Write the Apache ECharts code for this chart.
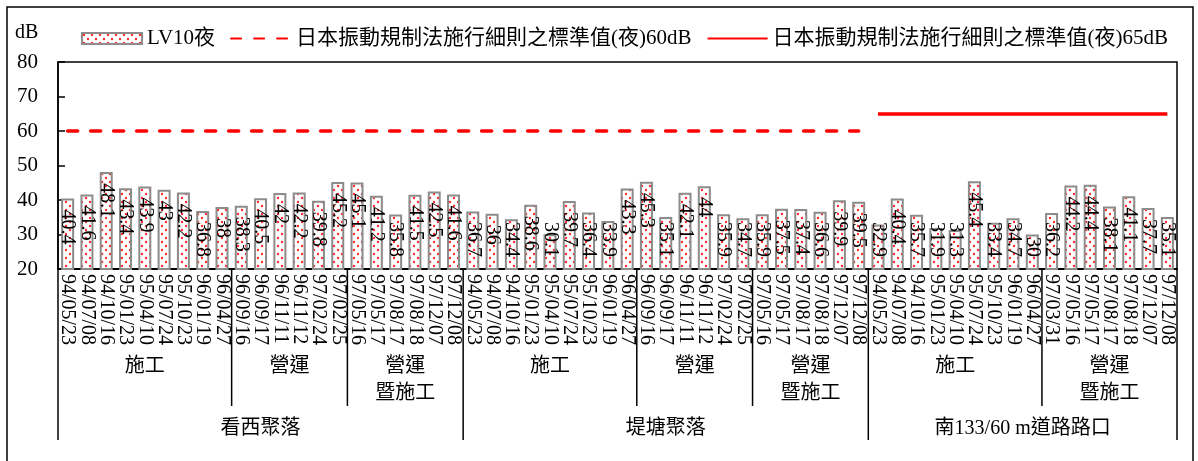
<!DOCTYPE html>
<html><head><meta charset="utf-8">
<script src="https://cdn.jsdelivr.net/npm/echarts@6/dist/echarts.min.js"></script>
<style>html,body{margin:0;padding:0;background:#fff}#c{width:1198px;height:461px}</style>
</head><body><div id="c"></div>
<script>
// ---- data ----
const kanxiDates = ['94/05/23','94/07/08','94/10/16','95/01/23','95/04/10','95/07/24','95/10/23','96/01/19','96/04/27','96/09/16','96/09/17','96/11/11','96/11/12','97/02/24','97/02/25','97/05/16','97/05/17','97/08/17','97/08/18','97/12/07','97/12/08'];
const kanxiValues = [40.4,41.6,48.1,43.4,43.9,43,42.2,36.8,38,38.3,40.5,42,42.2,39.8,45.2,45.1,41.2,35.8,41.5,42.5,41.6];
const ditangDates = ['94/05/23','94/07/08','94/10/16','95/01/23','95/04/10','95/07/24','95/10/23','96/01/19','96/04/27','96/09/16','96/09/17','96/11/11','96/11/12','97/02/24','97/02/25','97/05/16','97/05/17','97/08/17','97/08/18','97/12/07','97/12/08'];
const ditangValues = [36.7,36,34.4,38.6,30.1,39.7,36.4,33.9,43.3,45.3,35.1,42.1,44,35.9,34.7,35.9,37.5,37.4,36.6,39.9,39.5];
const nanDates = ['94/05/23','94/07/08','94/10/16','95/01/23','95/04/10','95/07/24','95/10/23','96/01/19','96/04/27','97/03/31','97/05/16','97/05/17','97/08/17','97/08/18','97/12/07','97/12/08'];
const nanValues = [32.9,40.4,35.7,31.9,31.3,45.4,33.4,34.7,30,36.2,44.2,44.4,38.1,41.1,37.7,35.1];
const groupNames = ['看西聚落','堤塘聚落','南133/60 m道路路口'];
const groupSizes = [21,21,16];
const phaseNames = ['施工','營運','營運\n暨施工','施工','營運','營運\n暨施工','施工','營運\n暨施工'];
const phaseSizes = [9,6,6,9,6,6,9,7];
const limit60 = 60;
const limit65 = 65;
const yMin = 20, yMax = 80, yStep = 10;
const seriesNames = ['LV10夜','日本振動規制法施行細則之標準值(夜)60dB','日本振動規制法施行細則之標準值(夜)65dB'];

const dates = kanxiDates.concat(ditangDates, nanDates);
const values = kanxiValues.concat(ditangValues, nanValues);

const FONT = "'Liberation Serif','Noto Sans CJK TC',serif";

// dotted pattern
const pc = document.createElement('canvas');
pc.width = 8; pc.height = 8;
const pctx = pc.getContext('2d');
pctx.fillStyle = '#ffffff'; pctx.fillRect(0,0,8,8);
pctx.fillStyle = '#ff2a2a';
[[2,2],[6,6]].forEach(p=>{pctx.beginPath();pctx.arc(p[0],p[1],1.2,0,Math.PI*2);pctx.fill();});
const pattern = {image: pc, repeat: 'repeat'};

const chart = echarts.init(document.getElementById('c'), null, {renderer:'canvas'});

const lineLegendStyle = {itemStyle: {opacity: 0}};
const baseOption = {
  animation: false,
  backgroundColor: '#fff',
  textStyle: {fontFamily: FONT},
  grid: {left: 58, right: 21, top: 62, bottom: 192, show: true, borderColor: '#000', borderWidth: 1.5, backgroundColor: 'transparent'},
  legend: {
    left: 76, top: 23, itemWidth: 60, itemHeight: 11, itemGap: 15,
    textStyle: {fontSize: 21, fontFamily: FONT, color: '#000'},
    data: [
      {name: seriesNames[0], icon: 'rect'},
      Object.assign({name: seriesNames[1]}, lineLegendStyle),
      Object.assign({name: seriesNames[2]}, lineLegendStyle)
    ]
  },
  xAxis: {
    type: 'category', data: dates,
    axisLine: {lineStyle: {color: '#000', width: 2}},
    axisTick: {show: false},
    axisLabel: {interval: 0, rotate: -90, fontSize: 20, fontFamily: FONT, color: '#000', margin: 5},
    splitLine: {show: false}
  },
  yAxis: {
    type: 'value', min: yMin, max: yMax, interval: yStep,
    axisLine: {show: true, lineStyle: {color: '#000', width: 1.5}},
    axisTick: {show: true, inside: true, length: 7, lineStyle: {color: '#000', width: 1.5}},
    axisLabel: {fontSize: 21, fontFamily: FONT, color: '#000', margin: 20},
    splitLine: {show: false}
  },
  series: [
    {
      name: seriesNames[0], type: 'bar', data: values, barWidth: 13,
      itemStyle: {color: pattern, borderColor: '#8c8c8c', borderWidth: 2},
      label: {show: true, rotate: -90, fontSize: 20, fontFamily: FONT, color: '#000', position: 'insideTop', align: 'left', verticalAlign: 'middle', distance: 9}
    },
    {
      name: seriesNames[1], type: 'line', data: [], symbol: 'none', itemStyle: {color: '#ff0000'},
      lineStyle: {color: '#ff0000', width: 3.5, type: [10, 13], cap: 'round'},
      markLine: {silent: true, symbol: ['none','none'], label: {show: false},
        lineStyle: {color: '#ff0000', width: 3.5, type: [10, 13], cap: 'round'},
        data: [[{xAxis: 0, yAxis: limit60}, {xAxis: groupSizes[0] + groupSizes[1] - 1, yAxis: limit60}]]}
    },
    {
      name: seriesNames[2], type: 'line', data: [], symbol: 'none', itemStyle: {color: '#ff0000'},
      lineStyle: {color: '#ff0000', width: 3.5, type: 'solid'},
      markLine: {silent: true, symbol: ['none','none'], label: {show: false},
        lineStyle: {color: '#ff0000', width: 3.5, type: 'solid'},
        data: [[{xAxis: groupSizes[0] + groupSizes[1], yAxis: limit65}, {xAxis: dates.length - 1, yAxis: limit65}]]}
    }
  ]
};
chart.setOption(baseOption);

// second pass: label placement + category separators via library scales
const mc = document.createElement('canvas').getContext('2d');
mc.font = "20px 'Liberation Serif'";
const yBottom = chart.convertToPixel({yAxisIndex: 0}, yMin);
const barData = values.map(v => {
  const top = chart.convertToPixel({yAxisIndex: 0}, v);
  const h = yBottom - top;
  const L = mc.measureText(String(v)).width;
  const off = Math.min(11, h - 12 - L);
  return {value: v, label: {position: ['50%', off], align: 'left', verticalAlign: 'middle'}};
});

const cx = i => chart.convertToPixel({xAxisIndex: 0}, i);
const band = cx(1) - cx(0);
const boundary = i => (i < dates.length ? cx(i) - band / 2 : cx(dates.length - 1) + band / 2);

const graphics = [];
graphics.push({type: 'rect', shape: {x: 7, y: 7, width: 1186, height: 480}, style: {fill: 'none', stroke: '#000', lineWidth: 1.5}, silent: true});
graphics.push({type: 'text', x: 15, y: 33, style: {text: 'dB', fontSize: 20, fontFamily: FONT, fill: '#000', align: 'left', verticalAlign: 'middle'}});

let acc = 0;
const phaseBounds = [0];
phaseSizes.forEach(s => { acc += s; phaseBounds.push(acc); });
acc = 0;
const groupBounds = [0];
groupSizes.forEach(s => { acc += s; groupBounds.push(acc); });

phaseBounds.forEach(b => {
  if (groupBounds.indexOf(b) >= 0) return;
  const x = boundary(b);
  graphics.push({type: 'line', shape: {x1: x, y1: yBottom, x2: x, y2: yBottom + 137}, style: {stroke: '#000', lineWidth: 1.5}, silent: true});
});
groupBounds.forEach(b => {
  const x = boundary(b);
  graphics.push({type: 'line', shape: {x1: x, y1: yBottom, x2: x, y2: yBottom + 171}, style: {stroke: '#000', lineWidth: 1.5}, silent: true});
});
phaseNames.forEach((n, k) => {
  const x = (boundary(phaseBounds[k]) + boundary(phaseBounds[k + 1])) / 2;
  graphics.push({type: 'text', x: x, y: yBottom + 84, style: {text: n, fontSize: 20, fontFamily: FONT, fill: '#000', align: 'center', verticalAlign: 'top', lineHeight: 27}});
});
groupNames.forEach((n, k) => {
  const x = (boundary(groupBounds[k]) + boundary(groupBounds[k + 1])) / 2;
  graphics.push({type: 'text', x: x, y: yBottom + 160, style: {text: n, fontSize: 20, fontFamily: FONT, fill: '#000', align: 'center', verticalAlign: 'middle'}});
});

chart.setOption({series: [{data: barData}], graphic: graphics});
</script>
</body></html>
